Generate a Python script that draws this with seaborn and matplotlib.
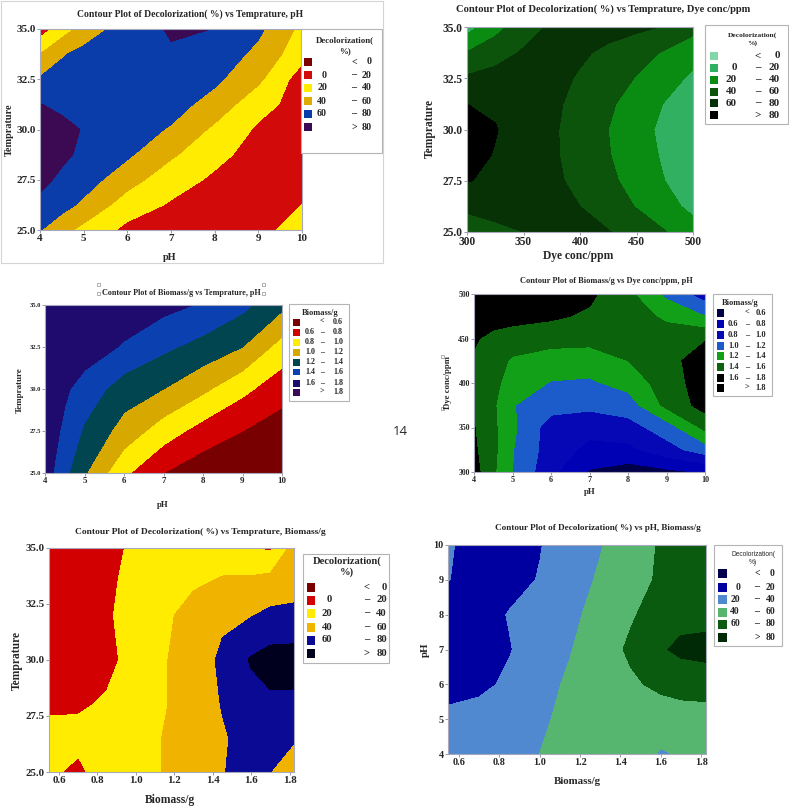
import matplotlib
matplotlib.use("Agg")
import matplotlib.pyplot as plt
import seaborn as sns
from matplotlib.patches import Rectangle

sns.set_style("white")
plt.rcParams['font.family'] = ['Liberation Serif', 'DejaVu Serif']
plt.rcParams['font.weight'] = 'bold'

W, H = 789, 807

# ---------------- data ----------------
decol_levels = [-1000, 0, 20, 40, 60, 80, 1000]
biomass_levels = [-10, 0.6, 0.8, 1.0, 1.2, 1.4, 1.6, 1.8, 10]
decol_rows = [("", "<", "0"), ("0", "–", "20"), ("20", "–", "40"),
              ("40", "–", "60"), ("60", "–", "80"), ("", ">", "80")]
biomass_rows = [("", "<", "0.6"), ("0.6", "–", "0.8"), ("0.8", "–", "1.0"),
                ("1.0", "–", "1.2"), ("1.2", "–", "1.4"), ("1.4", "–", "1.6"),
                ("1.6", "–", "1.8"), ("", ">", "1.8")]

# panel 1: Decolorization vs Temprature, pH
p1_ph = [4, 4.5, 5, 6, 7, 8, 9, 10]
p1_temp = [25, 26.25, 27.5, 28.75, 30, 31.25, 32.5, 33.75, 35]
p1_decol = [[61, 47, 34, 15, 10, 9, 15, 27],
            [76, 67, 56, 30, 18, 12, 12, 20],
            [84, 77, 69, 48, 28, 17, 12, 11],
            [88, 83, 77, 63, 43, 25, 13, 10],
            [89, 85, 79, 70, 58, 36, 17, 10],
            [80.5, 76, 74, 72, 68, 52, 27, 12],
            [62, 68, 71, 73, 72, 64, 44, 10],
            [40, 58, 66, 74, 78, 72, 55, 27],
            [10, 30, 48, 70, 82, 79.8, 64, 35]]
p1_colors = ['#7b0000', '#d20a0a', '#ffec00', '#e0ab00', '#0a3caa', '#3c0a52']

# panel 2: Decolorization vs Temprature, Dye conc/ppm
p2_dye = [300, 325, 350, 375, 400, 425, 450, 475, 500]
p2_temp = [25, 26.25, 27.5, 28.75, 30, 31.25, 32.5, 33.75, 35]
p2_decol = [[52, 56, 60, 64, 66, 61, 52, 41, 28],
            [63, 66, 68, 66, 60, 50, 39, 27, 15],
            [81, 76, 70, 64, 55, 44, 33, 20, 10],
            [86, 79, 70, 63, 52, 41, 30, 17, 6],
            [88, 81, 71, 63, 51, 40, 28, 15, 5],
            [80, 77, 70, 64, 54, 43, 32, 19, 8],
            [63, 67, 69, 66, 58, 49, 39, 29, 16],
            [41, 52, 62, 66, 63, 56, 48, 38, 28],
            [12, 33, 52, 63, 66, 67, 64, 59, 46]]
p2_colors = ['#80d8a6', '#32b062', '#0a8c12', '#0c540c', '#063206', '#000000']

# panel 3: Biomass/g vs Temprature, pH
p3_ph = [4, 4.5, 5, 6, 7, 8, 9, 10]
p3_temp = [25, 27.5, 30, 32.5, 35]
p3_biomass = [[1.70, 1.45, 1.22, 0.84, 0.60, 0.47, 0.38, 0.32],
              [1.72, 1.56, 1.37, 1.12, 0.90, 0.72, 0.60, 0.50],
              [1.74, 1.63, 1.52, 1.30, 1.20, 1.04, 0.85, 0.68],
              [1.76, 1.74, 1.70, 1.58, 1.44, 1.33, 1.20, 0.92],
              [1.78, 1.77, 1.76, 1.72, 1.66, 1.58, 1.45, 1.25]]
p3_colors = ['#780000', '#d20000', '#ffec00', '#d6a800', '#004550',
             '#0a40b0', '#1f0a6e', '#3a0a58']

# panel 4: Biomass/g vs Dye conc/ppm, pH
p4_ph = [4, 4.5, 5, 6, 7, 8, 9, 10]
p4_dye = [300, 325, 350, 375, 400, 425, 450, 475, 500]
p4_biomass = [[1.68, 1.43, 1.20, 0.85, 0.58, 0.50, 0.55, 0.62],
              [1.63, 1.45, 1.21, 0.90, 0.75, 0.75, 0.92, 1.10],
              [1.61, 1.44, 1.24, 0.90, 0.86, 0.92, 1.10, 1.45],
              [1.50, 1.43, 1.21, 1.08, 1.05, 1.10, 1.45, 1.68],
              [1.55, 1.46, 1.30, 1.19, 1.17, 1.27, 1.50, 1.70],
              [1.58, 1.50, 1.37, 1.30, 1.30, 1.40, 1.52, 1.72],
              [1.62, 1.55, 1.52, 1.48, 1.46, 1.45, 1.50, 1.58],
              [1.72, 1.68, 1.66, 1.63, 1.57, 1.50, 1.36, 1.20],
              [1.75, 1.74, 1.72, 1.70, 1.64, 1.45, 1.15, 0.90]]
p4_colors = ['#00004a', '#0000b4', '#0508b4', '#1c5cca', '#12a018',
             '#0b640b', '#000000', '#000000']

# panel 5: Decolorization vs Temprature, Biomass/g
p5_bio = [0.54, 0.7, 0.85, 1.0, 1.15, 1.3, 1.45, 1.6, 1.7, 1.83]
p5_temp = [25, 26.5, 28, 30, 32, 33.5, 35]
p5_decol = [[24, 16, 30, 33, 41, 50, 59, 68, 60, 50],
            [24, 25, 28, 32, 41, 52, 58, 67, 66, 61],
            [18, 18, 22, 30, 39, 48, 61, 72, 76, 76],
            [12, 13, 16, 26, 39, 48, 64, 82, 88, 88],
            [10, 12, 18, 27, 36, 48, 56, 59, 64, 66],
            [10, 12, 17, 25, 32, 37, 42, 44, 48, 50],
            [8, 10, 14, 24, 28, 30, 30, 21, 17, 50]]
p5_colors = ['#7a0000', '#d20000', '#ffec00', '#f0b400', '#0a0a94', '#00001e']

# panel 6: Decolorization vs pH, Biomass/g
p6_bio = [0.54, 0.7, 0.85, 1.0, 1.15, 1.3, 1.45, 1.6, 1.7, 1.83]
p6_ph = [4, 5, 6, 7, 8, 9, 10]
p6_decol = [[28, 30, 33, 40, 46, 50, 52, 38, 42, 52],
            [25, 27, 31, 37, 45, 48, 50, 50, 50, 50],
            [12, 16, 23, 33, 43, 50, 57, 64, 68, 70],
            [8, 10, 19, 29, 39, 51, 63, 78, 84, 86],
            [10, 12, 21, 28, 36, 46, 58, 68, 74, 74],
            [21, 12, 14, 21, 33, 42, 52, 63, 68, 72],
            [22, 14, 12, 19, 30, 39, 50, 62, 66, 70]]
p6_colors = ['#00004a', '#0000a0', '#5089d0', '#56b56e', '#0a5a0f', '#002a05']

# ---------------- helpers (pixel coordinates) ----------------
fig = plt.figure(figsize=(W / 100, H / 100), dpi=100)


def ftext(x, y, s, **kw):
    kw.setdefault('ha', 'center')
    kw.setdefault('va', 'center')
    fig.text(x / W, 1 - y / H, s, **kw)


def frect(x0, y0, x1, y1, **kw):
    fig.add_artist(Rectangle((x0 / W, 1 - y1 / H), (x1 - x0) / W, (y1 - y0) / H,
                             transform=fig.transFigure, **kw))


def panel(box, x, y, z, levels, colors, xticks, yticks, xfmt, yfmt,
          xsize, ysize, xlim=None, ylim=None):
    x0, y0, x1, y1 = box
    ax = fig.add_axes([x0 / W, 1 - y1 / H, (x1 - x0) / W, (y1 - y0) / H])
    ax.contourf(x, y, z, levels=levels, colors=colors)
    ax.set_xlim(xlim if xlim else (x[0], x[-1]))
    ax.set_ylim(ylim if ylim else (y[0], y[-1]))
    ax.set_xticks(xticks)
    ax.set_xticklabels([xfmt.format(t) for t in xticks])
    ax.set_yticks(yticks)
    ax.set_yticklabels([yfmt.format(t) for t in yticks])
    ax.tick_params(axis='x', labelsize=xsize, length=2, width=0.6,
                   color='#8888a0', pad=1, bottom=True)
    ax.tick_params(axis='y', labelsize=ysize, length=2, width=0.6,
                   color='#8888a0', pad=1, left=True)
    for sp in ax.spines.values():
        sp.set_color('#a8a8bc')
        sp.set_linewidth(0.8)
    return ax


def legend(box, title_lines, title_x, title_ys, title_size, colors, rows,
           sw, rows_y, sw_h, left_x, left_ha, mid_x, right_x, size,
           title_kw=None):
    frect(*box, fc='white', ec='#b4b4b4', lw=0.8)
    tk = title_kw or {}
    for line, ty in zip(title_lines, title_ys):
        ftext(title_x, ty, line, size=title_size, **tk)
    for yc, c, (l, m, r) in zip(rows_y, colors, rows):
        frect(sw[0], yc - sw_h / 2, sw[1], yc + sw_h / 2, fc=c, ec='none')
        ftext(left_x, yc, l, ha=left_ha, size=size)
        ftext(mid_x, yc, m, size=size)
        ftext(right_x, yc, r, ha='right', size=size)


# ---------------- panel 1 ----------------
frect(0.5, 0.5, 383, 263, fill=False, ec='#d4d4d4', lw=0.8)
panel((40, 29, 302, 230), p1_ph, p1_temp, p1_decol, decol_levels, p1_colors,
      [4, 5, 6, 7, 8, 9, 10], [25, 27.5, 30, 32.5, 35], '{:g}', '{:.1f}', 8, 8)
ftext(190, 14, "Contour Plot of Decolorization( %) vs Temprature, pH", size=6.9)
ftext(170, 257, "pH", size=7.4)
ftext(9, 130, "Temprature", size=7.4, rotation=90)
legend((301, 29, 382, 153), ["Decolorization(", "%)"], 345, [40, 51], 6.4,
       p1_colors, decol_rows, (304, 312), [62, 75, 88, 101, 114, 127], 8,
       327, 'right', 354, 372, 7.2)

# ---------------- panel 2 ----------------
panel((467, 27, 693, 232), p2_dye, p2_temp, p2_decol, decol_levels, p2_colors,
      [300, 350, 400, 450, 500], [25, 27.5, 30, 32.5, 35], '{:g}', '{:.1f}', 8.3, 8.3)
ftext(603, 9, "Contour Plot of Decolorization( %) vs Temprature, Dye conc/ppm", size=7.6)
ftext(578, 256, "Dye conc/ppm", size=8.3)
ftext(430, 129, "Temprature", size=8.3, rotation=90)
legend((705, 25, 788, 124), ["Decolorization(", "%)"], 752, [35, 43], 5.4,
       p2_colors, decol_rows, (710, 718), [56, 68, 80, 92, 103, 115], 8,
       737, 'right', 758, 780, 8)

# ---------------- panel 3 ----------------
panel((45, 305, 282, 473), p3_ph, p3_temp, p3_biomass, biomass_levels, p3_colors,
      [4, 5, 6, 7, 8, 9, 10], [25, 27.5, 30, 32.5, 35], '{:g}', '{:.1f}', 6.4, 4.7)
ftext(181, 293, "Contour Plot of Biomass/g vs Temprature, pH", size=5.9)
for sx, sy in [(98, 284), (98, 293), (263, 284), (263, 293)]:
    frect(sx - 1.5, sy - 1.5, sx + 1.5, sy + 1.5, fill=False, ec='#909090', lw=0.5)
ftext(163, 505, "pH", size=6.3)
ftext(20, 390, "Temprature", size=6.5, rotation=90)
legend((289, 304, 349, 401), ["Biomass/g"], 320, [313], 6,
       p3_colors, biomass_rows, (293, 300),
       [322, 332, 342, 352, 362, 372, 383, 392], 7,
       305, 'left', 322, 343, 5.8)

# ---------------- panel 4 ----------------
panel((474, 294, 705, 472), p4_ph, p4_dye, p4_biomass, biomass_levels, p4_colors,
      [4, 5, 6, 7, 8, 9, 10], [300, 350, 400, 450, 500], '{:g}', '{:g}', 5.9, 5.6)
ftext(606, 281, "Contour Plot of Biomass/g vs Dye conc/ppm, pH", size=6)
ftext(590, 492, "pH", size=6.3)
ftext(448, 383, "Dye conc/ppm", size=6.3, rotation=90)
for sx, sy in [(442, 357), (442, 409)]:
    frect(sx - 1.5, sy - 1.5, sx + 1.5, sy + 1.5, fill=False, ec='#909090', lw=0.5)
legend((713, 294, 772, 396), ["Biomass/g"], 740, [303], 6,
       p4_colors, biomass_rows, (717, 724),
       [313, 324, 335, 346, 356, 367, 378, 388], 7.5,
       728, 'left', 747, 766, 6)
ftext(400, 432, "14", size=9.5, weight='normal', family=['Open Sans', 'DejaVu Sans'])

# ---------------- panel 5 ----------------
panel((49, 548, 294, 772), p5_bio, p5_temp, p5_decol, decol_levels, p5_colors,
      [0.6, 0.8, 1.0, 1.2, 1.4, 1.6, 1.8], [25, 27.5, 30, 32.5, 35], '{:.1f}', '{:.1f}',
      7.8, 7.8, xlim=(0.548, 1.8225))
ftext(200, 532, "Contour Plot of Decolorization( %) vs Temprature, Biomass/g", size=6.8)
ftext(170, 800, "Biomass/g", size=8.3)
ftext(17, 660, "Temprature", size=8.3, rotation=90)
legend((303, 554, 389, 663), ["Decolorization(", "%)"], 347, [561, 572], 7.6,
       p5_colors, decol_rows, (307, 315), [587, 600, 613, 627, 640, 653], 9,
       332, 'right', 367, 387, 7.7)

# ---------------- panel 6 ----------------
panel((448, 545, 706, 754), p6_bio, p6_ph, p6_decol, decol_levels, p6_colors,
      [0.6, 0.8, 1.0, 1.2, 1.4, 1.6, 1.8], [4, 5, 6, 7, 8, 9, 10], '{:.1f}', '{:g}',
      7.3, 7.3, xlim=(0.547, 1.823))
ftext(598, 528, "Contour Plot of Decolorization( %) vs pH, Biomass/g", size=6.6)
ftext(577, 782, "Biomass/g", size=7.8)
ftext(425, 650, "pH", size=7.8, rotation=90)
legend((714, 545, 782, 646), ["Decolorization(", "%)"], 753, [554, 563], 4.8,
       p6_colors, decol_rows, (718, 727), [573, 587, 599, 612, 624, 637], 9,
       740, 'right', 757, 775, 7,
       title_kw={'weight': 'normal', 'family': ['Liberation Sans', 'DejaVu Sans']})

fig.savefig("out.png", dpi=100)
